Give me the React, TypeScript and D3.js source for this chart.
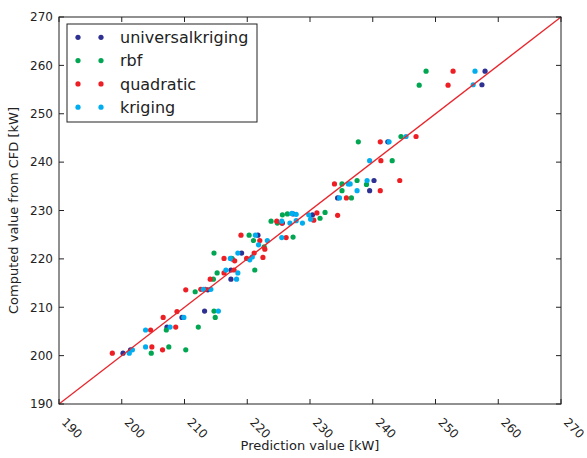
import React from 'react';
import * as d3 from 'd3';

const xTicks = [190, 200, 210, 220, 230, 240, 250, 260, 270];
const yTicks = [190, 200, 210, 220, 230, 240, 250, 260, 270];

const seriesNames = ['universalkriging', 'rbf', 'quadratic', 'kriging'];
const seriesColors = ['#2e3192', '#00a651', '#ed1f24', '#00aeef'];

const universalkrigingPred = [257.9, 257.4, 242.4, 240.2, 239.5, 234.4, 230.4, 227.3, 225.6, 221.7, 219.1, 217.4, 217.4, 213.2, 209.6, 207.2, 201.4, 200.2, 213.7, 217.6];
const universalkrigingCfd = [258.8, 256.0, 244.2, 236.2, 234.1, 232.6, 229.1, 229.3, 227.4, 224.9, 221.2, 217.7, 215.8, 209.2, 207.9, 205.9, 201.2, 200.5, 213.6, 220.0];

const rbfPred = [248.5, 247.4, 244.5, 237.7, 243.1, 237.5, 239.0, 235.1, 235.1, 236.6, 232.4, 231.6, 227.3, 226.4, 225.6, 224.8, 223.8, 220.3, 221.0, 222.7, 221.2, 214.7, 217.5, 215.2, 214.6, 211.7, 214.7, 214.9, 212.2, 207.1, 207.5, 204.7, 210.2];
const rbfCfd = [258.8, 255.9, 245.3, 244.2, 240.3, 236.2, 235.4, 235.5, 234.1, 232.6, 229.6, 228.4, 224.5, 229.3, 229.1, 227.4, 227.8, 224.9, 223.8, 222.5, 217.7, 221.2, 220.1, 217.1, 215.8, 213.2, 209.2, 207.9, 205.9, 205.3, 201.8, 200.5, 201.2];

const quadraticPred = [252.8, 252.0, 246.9, 241.2, 241.3, 244.3, 241.2, 233.9, 235.8, 234.4, 231.1, 230.6, 226.2, 224.7, 225.5, 219.0, 222.0, 222.8, 221.1, 216.3, 218.0, 219.9, 222.5, 216.3, 217.9, 214.1, 212.6, 213.3, 210.2, 208.8, 206.6, 208.6, 204.6, 204.8, 206.5, 198.5];
const quadraticCfd = [258.8, 255.9, 245.3, 244.2, 240.3, 236.2, 234.1, 235.5, 232.6, 229.0, 229.5, 228.0, 224.4, 227.8, 227.4, 224.9, 223.8, 222.0, 221.2, 220.1, 219.6, 220.1, 220.3, 217.1, 217.7, 215.8, 213.7, 213.7, 213.6, 209.1, 207.9, 205.9, 205.3, 201.8, 201.2, 200.5];

const krigingPred = [256.3, 256.0, 245.3, 242.6, 239.5, 239.1, 236.1, 236.4, 237.5, 234.7, 229.8, 230.1, 228.8, 227.8, 227.1, 227.8, 225.5, 226.8, 225.5, 221.3, 221.8, 223.2, 218.5, 217.3, 220.4, 220.8, 216.6, 218.5, 218.3, 214.2, 213.0, 215.4, 209.9, 207.7, 203.8, 203.8, 201.7, 201.2];
const krigingCfd = [258.8, 256.0, 245.3, 244.2, 240.3, 236.2, 235.5, 235.5, 234.1, 232.6, 229.1, 228.2, 227.4, 227.9, 229.4, 229.2, 227.8, 227.4, 224.4, 224.9, 222.9, 223.8, 221.2, 220.1, 219.8, 220.4, 217.7, 217.1, 215.8, 213.7, 213.7, 209.2, 207.9, 205.9, 205.3, 201.8, 201.2, 200.5];

const lineEnds = [190, 270];

const seriesPred = [universalkrigingPred, rbfPred, quadraticPred, krigingPred];
const seriesCfd = [universalkrigingCfd, rbfCfd, quadraticCfd, krigingCfd];

const FONT = 'DejaVu Sans, sans-serif';
const INK = '#222';

export default function App() {
  const left = 59, right = 561, top = 17, bottom = 404;
  const x = d3.scaleLinear().domain([190, 270]).range([left, right]);
  const y = d3.scaleLinear().domain([190, 270]).range([bottom, top]);
  const tickLen = 5;
  const r = 2.6;

  return (
    <svg width={587} height={458} style={{ position: 'absolute', left: 0, top: 0, background: '#fff' }}>
      <rect x={0} y={0} width={587} height={458} fill="#fff" />
      {seriesPred.map((pred, si) => (
        <g key={si} fill={seriesColors[si]}>
          {pred.map((v, i) => (
            <circle key={i} cx={x(v)} cy={y(seriesCfd[si][i])} r={r} />
          ))}
        </g>
      ))}
      <line x1={x(lineEnds[0])} y1={y(lineEnds[0])} x2={x(lineEnds[1])} y2={y(lineEnds[1])} stroke="#e8262c" strokeWidth={1.3} />
      <rect x={left} y={top} width={right - left} height={bottom - top} fill="none" stroke={INK} strokeWidth={1} />
      {xTicks.map((t) => (
        <g key={'x' + t}>
          <line x1={x(t)} x2={x(t)} y1={bottom} y2={bottom - tickLen} stroke={INK} />
          <line x1={x(t)} x2={x(t)} y1={top} y2={top + tickLen} stroke={INK} />
          <text transform={`translate(${x(t) + 2},${423}) rotate(45)`} fontFamily={FONT} fontSize={12} fill={INK} textAnchor="start">{t}</text>
        </g>
      ))}
      {yTicks.map((t) => (
        <g key={'y' + t}>
          <line x1={left} x2={left + tickLen} y1={y(t)} y2={y(t)} stroke={INK} />
          <line x1={right} x2={right - tickLen} y1={y(t)} y2={y(t)} stroke={INK} />
          <text x={53} y={y(t)} dy="0.36em" fontFamily={FONT} fontSize={12} fill={INK} textAnchor="end">{t}</text>
        </g>
      ))}
      <text x={(left + right) / 2} y={450} fontFamily={FONT} fontSize={13} fill={INK} textAnchor="middle">Prediction value [kW]</text>
      <text transform={`translate(18,${(top + bottom) / 2}) rotate(-90)`} fontFamily={FONT} fontSize={13} fill={INK} textAnchor="middle">Computed value from CFD [kW]</text>
      <g>
        <rect x={67} y={24} width={190} height={98} fill="#fff" stroke={INK} strokeWidth={1} />
        {seriesNames.map((name, i) => {
          const cy = 37.3 + i * 23.3;
          return (
            <g key={name}>
              <circle cx={78} cy={cy} r={r} fill={seriesColors[i]} />
              <circle cx={101} cy={cy} r={r} fill={seriesColors[i]} />
              <text x={120} y={cy} dy="0.36em" fontFamily={FONT} fontSize={16} fill={INK}>{name}</text>
            </g>
          );
        })}
      </g>
    </svg>
  );
}
